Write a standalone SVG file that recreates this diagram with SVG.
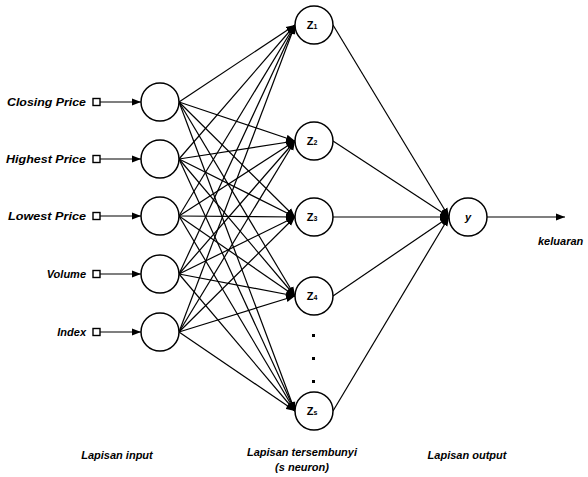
<svg xmlns="http://www.w3.org/2000/svg" width="588" height="477" viewBox="0 0 588 477">
<style>
.n{fill:#fff;stroke:#000;stroke-width:1.5}
.c{stroke:#000;stroke-width:1.2;fill:none}
.t{font-family:"Liberation Sans",Arial,sans-serif;font-style:italic;font-weight:bold;font-size:11px;fill:#000}
.z{font-family:"Liberation Sans",Arial,sans-serif;font-weight:bold;font-size:11px;fill:#000}
.sq{fill:#fff;stroke:#000;stroke-width:1.4}
</style>
<defs>
<marker id="a" markerUnits="userSpaceOnUse" markerWidth="10" markerHeight="8" refX="9" refY="4" orient="auto">
<path d="M0,0.5 L9,4 L0,7.5 Z" fill="#000"/>
</marker>
</defs>
<rect width="588" height="477" fill="#fff"/>
<g id="connectors" class="c" marker-end="url(#a)">
<line x1="100" y1="102" x2="141" y2="102"/>
<line x1="100" y1="159" x2="141" y2="159"/>
<line x1="100" y1="216" x2="141" y2="216"/>
<line x1="100" y1="274" x2="141" y2="274"/>
<line x1="100" y1="332" x2="141" y2="332"/>
<line x1="179" y1="102" x2="295" y2="25"/>
<line x1="179" y1="102" x2="295" y2="141"/>
<line x1="179" y1="102" x2="295" y2="217"/>
<line x1="179" y1="102" x2="295" y2="296"/>
<line x1="179" y1="102" x2="295" y2="411"/>
<line x1="179" y1="159" x2="295" y2="25"/>
<line x1="179" y1="159" x2="295" y2="141"/>
<line x1="179" y1="159" x2="295" y2="217"/>
<line x1="179" y1="159" x2="295" y2="296"/>
<line x1="179" y1="159" x2="295" y2="411"/>
<line x1="179" y1="216" x2="295" y2="25"/>
<line x1="179" y1="216" x2="295" y2="141"/>
<line x1="179" y1="216" x2="295" y2="217"/>
<line x1="179" y1="216" x2="295" y2="296"/>
<line x1="179" y1="216" x2="295" y2="411"/>
<line x1="179" y1="274" x2="295" y2="25"/>
<line x1="179" y1="274" x2="295" y2="141"/>
<line x1="179" y1="274" x2="295" y2="217"/>
<line x1="179" y1="274" x2="295" y2="296"/>
<line x1="179" y1="274" x2="295" y2="411"/>
<line x1="179" y1="332" x2="295" y2="25"/>
<line x1="179" y1="332" x2="295" y2="141"/>
<line x1="179" y1="332" x2="295" y2="217"/>
<line x1="179" y1="332" x2="295" y2="296"/>
<line x1="179" y1="332" x2="295" y2="411"/>
<line x1="333" y1="25" x2="449" y2="217"/>
<line x1="333" y1="141" x2="449" y2="217"/>
<line x1="333" y1="217" x2="449" y2="217"/>
<line x1="333" y1="296" x2="449" y2="217"/>
<line x1="333" y1="411" x2="449" y2="217"/>
<line x1="487" y1="217" x2="565" y2="217"/>
</g>
<g id="in1"><rect class="sq" x="93" y="98.5" width="7" height="7"/><circle class="n" cx="160" cy="102" r="19"/><text class="t" x="86" y="106" text-anchor="end" textLength="79" lengthAdjust="spacingAndGlyphs">Closing Price</text></g>
<g id="in2"><rect class="sq" x="93" y="155.5" width="7" height="7"/><circle class="n" cx="160" cy="159" r="19"/><text class="t" x="86" y="163" text-anchor="end" textLength="80" lengthAdjust="spacingAndGlyphs">Highest Price</text></g>
<g id="in3"><rect class="sq" x="93" y="212.5" width="7" height="7"/><circle class="n" cx="160" cy="216" r="19"/><text class="t" x="86" y="220" text-anchor="end" textLength="78" lengthAdjust="spacingAndGlyphs">Lowest Price</text></g>
<g id="in4"><rect class="sq" x="93" y="270.5" width="7" height="7"/><circle class="n" cx="160" cy="274" r="19"/><text class="t" x="86" y="278" text-anchor="end">Volume</text></g>
<g id="in5"><rect class="sq" x="93" y="328.5" width="7" height="7"/><circle class="n" cx="160" cy="332" r="19"/><text class="t" x="86" y="336" text-anchor="end">Index</text></g>
<g id="z1"><circle class="n" cx="314" cy="25" r="19"/><text class="z" x="312" y="29" text-anchor="middle">Z<tspan font-size="7">1</tspan></text></g>
<g id="z2"><circle class="n" cx="314" cy="141" r="19"/><text class="z" x="312" y="145" text-anchor="middle">Z<tspan font-size="7">2</tspan></text></g>
<g id="z3"><circle class="n" cx="314" cy="217" r="19"/><text class="z" x="312" y="221" text-anchor="middle">Z<tspan font-size="7">3</tspan></text></g>
<g id="z4"><circle class="n" cx="314" cy="296" r="19"/><text class="z" x="312" y="300" text-anchor="middle">Z<tspan font-size="7">4</tspan></text></g>
<g id="dots" fill="#000"><rect x="312" y="334" width="3" height="3"/><rect x="312" y="357" width="3" height="3"/><rect x="312" y="380" width="3" height="3"/></g>
<g id="zs"><circle class="n" cx="314" cy="411" r="19"/><text class="z" x="312" y="415" text-anchor="middle">Z<tspan font-size="7">s</tspan></text></g>
<g id="y"><circle class="n" cx="468" cy="217" r="19"/><text class="z" x="468" y="221" text-anchor="middle" font-style="italic">y</text></g>
<g id="labels">
<text class="t" x="538" y="245" font-size="10">keluaran</text>
<text class="t" x="117" y="459" text-anchor="middle">Lapisan input</text>
<text class="t" x="302" y="456" text-anchor="middle">Lapisan tersembunyi</text>
<text class="t" x="302" y="471" text-anchor="middle">(s neuron)</text>
<text class="t" x="467" y="459" text-anchor="middle">Lapisan output</text>
</g>
</svg>
